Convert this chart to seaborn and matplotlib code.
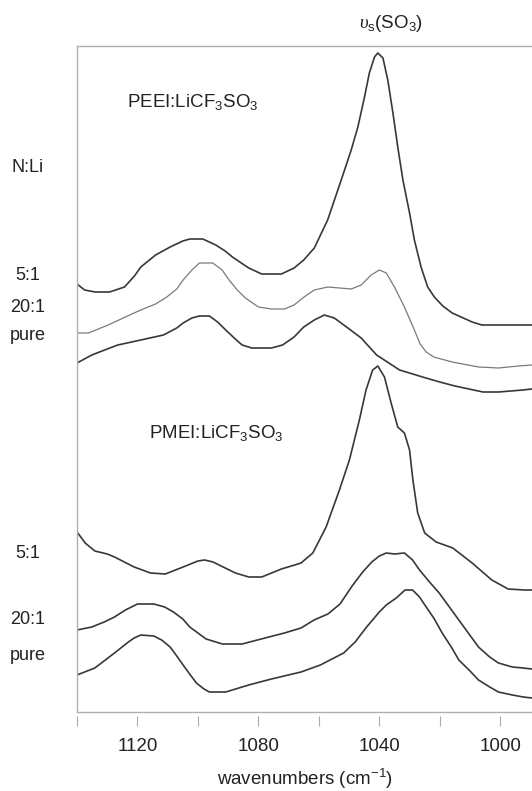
import numpy as np
import pandas as pd
import matplotlib
matplotlib.use("Agg")
import matplotlib.pyplot as plt
import seaborn as sns

# ---------------- data (wavenumber in cm^-1, displayed intensity in a.u., offsets included) ----------
peei_51_wn = [1140, 1137.5, 1134, 1129.2, 1124.3, 1121, 1118.9, 1114, 1109.2, 1105, 1102.7, 1098.4,
              1094.1, 1091, 1088.6, 1083.2, 1078.9, 1072.4, 1068.2, 1065, 1061.5, 1057.1, 1052.6,
              1049.3, 1047.1, 1044.9, 1043.3, 1041.6, 1040.5, 1038.8, 1037.2, 1035.5, 1033.9,
              1032.2, 1030.0, 1028.4, 1026.2, 1024.0, 1021.8, 1019, 1015.9, 1009.3, 1006.1, 989.5]
peei_51_y = [4.28, 4.22, 4.20, 4.20, 4.25, 4.36, 4.45, 4.57, 4.65, 4.71, 4.73, 4.73,
             4.67, 4.61, 4.55, 4.44, 4.38, 4.38, 4.44, 4.52, 4.64, 4.92, 5.32,
             5.62, 5.85, 6.15, 6.39, 6.55, 6.59, 6.54, 6.32, 5.99, 5.65,
             5.32, 4.99, 4.72, 4.45, 4.25, 4.15, 4.06, 3.99, 3.90, 3.87, 3.87]

peei_201_wn = [1140, 1136.2, 1129.7, 1124, 1118.9, 1114, 1110.3, 1107, 1104.9, 1102, 1099.5, 1095.1,
               1092, 1089.7, 1087, 1084.3, 1080, 1075.7, 1071.4, 1068.2, 1064.9, 1061.5, 1057.1,
               1049.3, 1046.0, 1042.7, 1040.0, 1037.7, 1035.0, 1031.7, 1028.4, 1026.5, 1024.5,
               1022, 1015.9, 1007.2, 1000.6, 994, 989.5]
peei_201_y = [3.79, 3.79, 3.87, 3.95, 4.02, 4.08, 4.15, 4.23, 4.32, 4.42, 4.49, 4.49,
              4.42, 4.32, 4.22, 4.14, 4.05, 4.03, 4.03, 4.07, 4.15, 4.22, 4.25,
              4.23, 4.27, 4.37, 4.42, 4.39, 4.25, 4.05, 3.82, 3.68, 3.60,
              3.55, 3.50, 3.45, 3.44, 3.46, 3.47]

peei_pure_wn = [1140, 1135.1, 1130, 1126.5, 1118.9, 1111.4, 1107, 1104.9, 1102, 1099.5, 1096.2,
                1093.5, 1090.8, 1088, 1085.4, 1082.2, 1075.7, 1072, 1068.2, 1065, 1061.5, 1058.2,
                1054.9, 1050.4, 1046.0, 1040.9, 1033.3, 1025.7, 1020, 1015, 1005.7, 1000.6,
                992.5, 989.5]
peei_pure_y = [3.49, 3.57, 3.63, 3.67, 3.72, 3.77, 3.84, 3.89, 3.94, 3.96, 3.96,
               3.90, 3.82, 3.74, 3.67, 3.64, 3.64, 3.67, 3.75, 3.85, 3.92, 3.97,
               3.94, 3.84, 3.74, 3.57, 3.42, 3.35, 3.30, 3.26, 3.20, 3.20,
               3.22, 3.23]

pmei_51_wn = [1140, 1138.5, 1137.3, 1134.1, 1130, 1127.6, 1121.1, 1115.7, 1110.8, 1104.9, 1100,
              1097.8, 1095, 1093, 1087.6, 1083.2, 1078.9, 1072.4, 1068, 1065.9, 1062.0, 1057.6,
              1053.2, 1049.9, 1046.6, 1044.4, 1042.2, 1040.5, 1038.3, 1036.1, 1033.9, 1031.7,
              1030.0, 1028.9, 1027.3, 1025.0, 1021.2, 1015.7, 1009.3, 1002.8, 997.4, 992, 989.5]
pmei_51_y = [1.80, 1.74, 1.69, 1.61, 1.58, 1.55, 1.45, 1.39, 1.38, 1.45, 1.51,
             1.52, 1.50, 1.47, 1.39, 1.35, 1.35, 1.43, 1.47, 1.49, 1.59, 1.85,
             2.22, 2.52, 2.92, 3.22, 3.42, 3.46, 3.35, 3.09, 2.85, 2.79,
             2.62, 2.32, 1.99, 1.79, 1.70, 1.64, 1.49, 1.32, 1.23, 1.22, 1.22]

pmei_201_wn = [1140, 1135.1, 1131, 1127.6, 1124, 1120, 1114.6, 1111, 1108.1, 1105, 1102.7, 1100,
               1097.3, 1091.9, 1085.4, 1077.8, 1071.4, 1065.9, 1061.6, 1057, 1053, 1049, 1045.5,
               1042.5, 1040, 1037.7, 1035, 1031.7, 1029, 1026.7, 1023.4, 1020.2, 1013.7, 1007.2,
               1003.5, 1000.6, 996, 992.4, 989.5]
pmei_201_y = [0.82, 0.85, 0.90, 0.95, 1.02, 1.08, 1.08, 1.05, 1.00, 0.93, 0.85, 0.79,
              0.73, 0.68, 0.68, 0.74, 0.79, 0.84, 0.92, 0.98, 1.08, 1.26, 1.40,
              1.50, 1.56, 1.59, 1.58, 1.59, 1.52, 1.42, 1.30, 1.19, 0.92, 0.65,
              0.55, 0.49, 0.45, 0.44, 0.43]

pmei_pure_wn = [1140, 1134.1, 1127.6, 1123, 1121.1, 1118.9, 1114.6, 1112, 1109.2, 1107, 1104.9,
                1102.5, 1100.5, 1098, 1096.2, 1090.8, 1083.2, 1075.7, 1065.9, 1059.5, 1051.8, 1048,
                1044.2, 1040, 1037.7, 1034.4, 1031.5, 1029, 1026.7, 1024.5, 1022, 1019.2, 1016,
                1013.7, 1010, 1007.2, 1003.5, 1000.6, 996, 992.4, 989.5]
pmei_pure_y = [0.37, 0.44, 0.59, 0.70, 0.74, 0.77, 0.76, 0.72, 0.65, 0.56, 0.47,
               0.37, 0.29, 0.23, 0.20, 0.20, 0.27, 0.33, 0.40, 0.47, 0.59, 0.70,
               0.85, 1.00, 1.07, 1.14, 1.22, 1.22, 1.15, 1.05, 0.94, 0.79, 0.64,
               0.52, 0.41, 0.32, 0.25, 0.20, 0.17, 0.15, 0.14]

series_names = ["PEEI 5:1", "PEEI 20:1", "PEEI pure", "PMEI 5:1", "PMEI 20:1", "PMEI pure"]
series_wn = [peei_51_wn, peei_201_wn, peei_pure_wn, pmei_51_wn, pmei_201_wn, pmei_pure_wn]
series_y = [peei_51_y, peei_201_y, peei_pure_y, pmei_51_y, pmei_201_y, pmei_pure_y]

x_ticks = [1140, 1120, 1100, 1080, 1060, 1040, 1020, 1000]
x_ticklabels = ["", "1120", "", "1080", "", "1040", "", "1000"]

ratio_labels = ["N:Li", "5:1", "20:1", "pure", "5:1", "20:1", "pure"]
ratio_label_y = [5.45, 4.37, 4.05, 3.77, 1.59, 0.92, 0.57]

# ---------------- styling ----------------
sns.set_style("white")
plt.rcParams["font.family"] = ["Liberation Sans", "DejaVu Sans"]
plt.rcParams["mathtext.fontset"] = "custom"
plt.rcParams["mathtext.rm"] = "Liberation Sans"
plt.rcParams["mathtext.it"] = "Liberation Serif:italic"
plt.rcParams["mathtext.default"] = "regular"

frames = []
for name, wn, y in zip(series_names, series_wn, series_y):
    frames.append(pd.DataFrame({"wn": wn, "y": y, "series": name}))
df = pd.concat(frames, ignore_index=True)

fig = plt.figure(figsize=(5.32, 7.91), dpi=100)
ax = fig.add_axes([77 / 532, 1 - 712 / 791, 1 - 77 / 532, (712 - 46) / 791])

palette = {"PEEI 5:1": "#383838", "PEEI 20:1": "#7a7a7a", "PEEI pure": "#383838",
           "PMEI 5:1": "#383838", "PMEI 20:1": "#383838", "PMEI pure": "#383838"}
widths = {"PEEI 20:1": 0.9}
for name in series_names:
    sub = df[df["series"] == name]
    sns.lineplot(data=sub, x="wn", y="y", ax=ax, color=palette[name],
                 linewidth=widths.get(name, 1.2), sort=True, estimator=None, legend=False)

# spines first (set_position resets ticks)
for side in ["left", "top"]:
    ax.spines[side].set_visible(True)
    ax.spines[side].set_color("#b0b0b0")
    ax.spines[side].set_linewidth(1.0)
ax.spines["right"].set_visible(False)
ax.spines["bottom"].set_position(("outward", 3))
ax.spines["bottom"].set_visible(False)
ax.axhline(0, color="#b0b0b0", linewidth=1.0, clip_on=False)

ax.set_xlim(1140, 989.5)
ax.set_ylim(0, 6.66)
ax.set_yticks([])
ax.set_xticks(x_ticks)
ax.set_xticklabels(x_ticklabels)
ax.tick_params(axis="x", direction="out", length=7.5, width=0.8, color="#aaaaaa", pad=8.5,
               bottom=True, labelsize=13.5, labelcolor="#222222")
ax.set_xlabel("wavenumbers (cm$^{-1}$)", fontsize=13.5, color="#222222", labelpad=8)
ax.set_ylabel("")

for lab, yy in zip(ratio_labels, ratio_label_y):
    ax.text(-0.108, yy, lab, transform=ax.get_yaxis_transform(), ha="center", va="center",
            fontsize=13, color="#222222")

ax.text(0.11, 6.10, "PEEI:LiCF$_3$SO$_3$", transform=ax.get_yaxis_transform(),
        ha="left", va="center", fontsize=13.5, color="#222222")
ax.text(0.158, 2.79, "PMEI:LiCF$_3$SO$_3$", transform=ax.get_yaxis_transform(),
        ha="left", va="center", fontsize=13.5, color="#222222")
ax.text(1036.0, 6.89, r"$\mathit{\upsilon}_s$(SO$_3$)", ha="center", va="center",
        fontsize=13.5, color="#222222", clip_on=False)

fig.savefig("out.png", dpi=100)
